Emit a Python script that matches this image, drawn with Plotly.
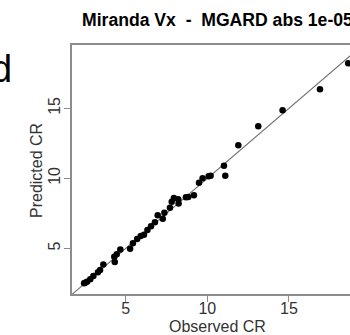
import plotly.graph_objects as go

# Observed vs predicted compression ratio
observed = [2.45, 2.52, 2.63, 2.83, 3.02, 3.30, 3.43, 3.63, 4.33, 4.30, 4.45, 4.67,
            5.27, 5.44, 5.70, 5.92, 6.12, 6.33, 6.55, 6.79, 6.96, 7.27, 7.37, 7.71,
            7.82, 7.95, 8.22, 8.24, 8.69, 8.83, 9.18, 9.49, 9.71, 10.08, 10.20, 11.02,
            11.10, 11.90, 13.12, 14.61, 16.90, 18.63]
predicted = [2.50, 2.55, 2.62, 2.80, 3.02, 3.30, 3.45, 3.84, 4.02, 4.40, 4.57, 4.91,
             4.97, 5.36, 5.66, 5.88, 5.97, 6.31, 6.57, 6.86, 7.36, 7.11, 7.54, 7.90,
             8.33, 8.60, 8.50, 8.21, 8.64, 8.66, 8.79, 9.69, 10.00, 10.15, 10.19, 10.90,
             10.19, 12.36, 13.71, 14.86, 16.36, 18.21]

x_ticks = [5, 10, 15]
y_ticks = [5, 10, 15]
x_range = [1.71, 18.74]
y_range = [1.74, 19.52]

title_text = "Miranda Vx\u00a0\u00a0-\u00a0\u00a0MGARD abs 1e-05"
panel_label = "d"

FONT = "Liberation Sans, Arial, Helvetica, sans-serif"
AXC = "#8c8c8c"

identity = [0, max(x_range[1], y_range[1]) + 5]

fig = go.Figure()
fig.add_trace(go.Scatter(x=identity, y=identity, mode="lines",
                         line=dict(color="#6e6e6e", width=1.1),
                         hoverinfo="skip", showlegend=False))
fig.add_trace(go.Scatter(x=observed, y=predicted, mode="markers",
                         marker=dict(color="black", size=6.5, line=dict(width=0)),
                         showlegend=False))

fig.update_layout(
    width=350, height=335,
    margin=dict(l=72, r=0, t=45, b=41),
    plot_bgcolor="white", paper_bgcolor="white",
    font=dict(family=FONT, color="#333333"),
    xaxis=dict(range=x_range, tickvals=x_ticks, ticks="outside", ticklen=6,
               tickcolor=AXC, tickwidth=1.3, showline=True, linecolor=AXC,
               linewidth=1.5, mirror=True, showgrid=False, zeroline=False,
               ticklabelstandoff=-7,
               tickfont=dict(size=16, color="#333333")),
    yaxis=dict(range=y_range, tickvals=y_ticks, ticks="outside", ticklen=6,
               tickcolor=AXC, tickwidth=1.3, showline=True, linecolor=AXC,
               linewidth=1.5, mirror=False, showgrid=False, zeroline=False,
               ticklabelstandoff=-2,
               tickangle=-90, tickfont=dict(size=16, color="#333333")),
    annotations=[
        dict(text="<b>" + title_text + "</b>", xref="paper", yref="paper",
             x=0.0288, y=1.1024, xanchor="left", yanchor="middle",
             showarrow=False, font=dict(size=17.6, color="black", family=FONT)),
        dict(text="Observed CR", xref="paper", yref="paper",
             x=0.5216, y=-0.1325, xanchor="center", yanchor="middle",
             showarrow=False, font=dict(size=16, color="#333333", family=FONT)),
        dict(text="Predicted CR", xref="paper", yref="paper",
             x=-0.1259, y=0.498, xanchor="center", yanchor="middle",
             textangle=-90, showarrow=False,
             font=dict(size=16, color="#333333", family=FONT)),
        dict(text=panel_label, xref="paper", yref="paper",
             x=-0.2086, y=0.905, xanchor="right", yanchor="middle",
             showarrow=False, font=dict(size=38, color="black", family=FONT)),
    ],
)

fig.write_html("out.html")
